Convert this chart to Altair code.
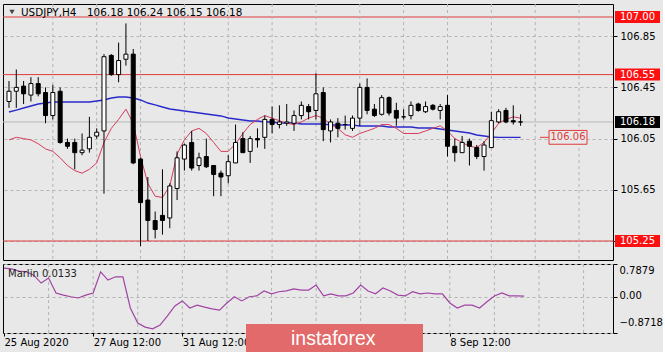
import altair as alt
import pandas as pd

# ---------------- data ----------------
opens = [106.34,106.42,106.46,106.39,106.48,106.41,106.23,106.42,106.02,106.02,105.94,105.97,106.07,106.11,106.70,106.55,106.67,106.71,105.89,105.57,105.41,105.45,105.43,105.66,105.89,106.02,105.84,105.91,105.84,105.78,105.76,105.86,106.05,105.95,106.05,106.06,106.20,106.16,106.17,106.17,106.23,106.30,106.27,106.41,106.11,106.17,106.16,106.13,106.21,106.45,106.28,106.24,106.37,106.27,106.22,106.23,106.32,106.26,106.31,106.27,106.31,105.99,105.94,106.03,105.98,105.91,105.98,106.18,106.27,106.19,106.18]
highs = [106.50,106.59,106.50,106.53,106.53,106.45,106.47,106.45,106.05,106.05,106.09,106.22,106.13,106.71,106.71,106.80,106.95,106.75,105.90,105.75,105.48,105.81,105.70,105.95,106.01,106.11,105.94,106.05,105.84,105.80,105.92,106.16,106.10,106.07,106.13,106.23,106.30,106.31,106.32,106.27,106.34,106.32,106.56,106.45,106.20,106.21,106.23,106.23,106.48,106.52,106.32,106.39,106.38,106.33,106.28,106.34,106.33,106.34,106.32,106.32,106.39,106.05,106.07,106.05,106.00,106.03,106.26,106.28,106.29,106.31,106.24]
lows = [106.29,106.29,106.32,106.34,106.38,106.17,106.20,106.01,105.97,105.81,105.92,105.94,106.05,105.62,106.54,106.49,106.62,105.85,105.21,105.25,105.27,105.30,105.35,105.57,105.80,105.80,105.80,105.82,105.60,105.60,105.70,105.86,105.94,105.86,105.98,105.97,106.09,106.13,106.15,106.11,106.20,106.20,106.20,106.03,106.02,106.06,106.12,106.11,106.15,106.24,106.22,106.23,106.23,106.15,106.20,106.20,106.26,106.25,106.27,106.20,105.91,105.87,105.94,105.84,105.89,105.80,105.98,106.17,106.17,106.16,106.15]
closes = [106.42,106.45,106.40,106.48,106.40,106.23,106.41,106.02,105.99,105.94,105.96,106.06,106.10,106.69,106.55,106.66,106.71,105.86,105.55,105.41,105.34,105.41,105.68,105.90,106.00,105.82,105.90,105.83,105.77,105.75,105.87,106.02,105.94,106.05,106.04,106.20,106.16,106.18,106.18,106.23,106.31,106.26,106.40,106.12,106.18,106.13,106.16,106.21,106.45,106.27,106.23,106.37,106.25,106.21,106.22,106.31,106.27,106.30,106.28,106.30,105.99,105.94,106.02,105.99,105.91,106.00,106.19,106.26,106.18,106.18,106.18]
ma_fast = [106.04,106.06,106.05,106.04,106.01,105.97,105.95,105.90,105.84,105.80,105.78,105.81,105.86,106.02,106.13,106.20,106.28,106.17,105.91,105.70,105.60,105.59,105.68,105.93,106.04,106.11,106.13,106.09,106.02,105.95,105.95,106.01,106.09,106.16,106.20,106.23,106.21,106.19,106.17,106.16,106.18,106.21,106.23,106.21,106.16,106.13,106.08,106.06,106.09,106.11,106.13,106.16,106.16,106.13,106.09,106.09,106.09,106.11,106.13,106.15,106.11,106.05,106.02,105.99,105.98,106.02,106.09,106.17,106.20,106.22,106.21]
ma_slow = [106.258,106.273,106.289,106.305,106.320,106.328,106.336,106.336,106.336,106.336,106.336,106.336,106.344,106.352,106.367,106.375,106.375,106.367,106.352,106.328,106.313,106.297,106.281,106.273,106.266,106.258,106.250,106.242,106.234,106.227,106.211,106.203,106.195,106.188,106.188,106.180,106.180,106.172,106.172,106.172,106.164,106.164,106.164,106.164,106.156,106.156,106.156,106.156,106.148,106.148,106.148,106.148,106.141,106.141,106.141,106.141,106.133,106.133,106.133,106.125,106.117,106.109,106.102,106.094,106.078,106.070,106.063,106.060,106.060,106.060,106.060]
marlin = [0.69,0.67,0.62,0.60,0.52,0.33,0.45,0.09,0.04,0.00,-0.03,0.04,0.09,0.60,0.40,0.48,0.48,-0.27,-0.63,-0.73,-0.77,-0.68,-0.46,-0.22,-0.10,-0.27,-0.20,-0.25,-0.29,-0.32,-0.15,0.00,-0.10,0.00,0.02,0.14,0.07,0.12,0.14,0.19,0.16,0.16,0.28,0.02,0.07,0.02,0.02,0.09,0.28,0.14,0.07,0.21,0.14,0.04,0.02,0.12,0.07,0.09,0.07,0.07,-0.15,-0.27,-0.20,-0.20,-0.27,-0.12,0.02,0.09,0.02,0.02,0.0133]

level_prices = [107.00, 106.55, 105.25]
bid_price = [106.18]
price_ticks = [105.25, 105.65, 106.05, 106.45, 106.85]
box_prices = [107.00, 106.55, 106.18, 105.25]
box_labels = ["107.00", "106.55", "106.18", "105.25"]
box_fills = ["#ff1010", "#ff1010", "#000000", "#ff1010"]
ma_label_price = [106.06]
ma_label_text = ["106.06"]
grid_idx = [6, 12, 18, 24, 30, 36, 42, 48, 54, 60, 66, 72, 78]
date_idx = [0, 12, 24, 60]
date_labels = ["25 Aug 2020", "27 Aug 12:00", "31 Aug 12:00", "8 Sep 12:00"]
osc_ticks = [-0.8718, 0.0, 0.7879]
symbol_text = "USDJPY,H4"
ohlc_text = "106.18 106.24 106.15 106.18"
osc_text = "Marlin 0.0133"
brand_text = "instaforex"

# ---------------- styling ----------------
BG = "#e8e8e8"
GRID = "#b4b4b4"
RED = "#e03a3a"
FONT = "DejaVu Sans"
W, H1, H2 = 610, 256, 69

df = pd.DataFrame({
    "i": list(range(len(opens))), "open": opens, "high": highs, "low": lows,
    "close": closes, "fast": ma_fast, "slow": ma_slow, "marlin": marlin,
})

xsc = alt.Scale(domain=[-0.135, 81.96], nice=False, zero=False)
ysc = alt.Scale(domain=[105.1016, 107.1016], nice=False, zero=False)
osc_sc = alt.Scale(domain=[-0.8718, 0.7879], nice=False, zero=False)

y_axis = alt.Axis(orient="right", values=price_ticks, format=".2f", grid=True,
                  gridDash=[3, 3], gridColor=GRID, domain=False, tickSize=4,
                  tickColor="#000", labelPadding=3, labelFont=FONT,
                  labelFontSize=10, labelColor="#000", title=None)


def Y(field):
    return alt.Y(field, scale=ysc, axis=y_axis)


XM = alt.X("i:Q", scale=xsc, axis=None)
base = alt.Chart(df)

vgrid = alt.Chart(pd.DataFrame({"g": grid_idx})).mark_rule(
    color=GRID, strokeDash=[3, 3], strokeWidth=1
).encode(x=alt.X("g:Q", scale=xsc, axis=None))

levels = alt.Chart(pd.DataFrame({"lv": level_prices})).mark_rule(
    color=RED, strokeWidth=1
).encode(y=Y("lv:Q"))

bid = alt.Chart(pd.DataFrame({"b": bid_price})).mark_rule(
    color="#b8b8b8", strokeWidth=1
).encode(y=Y("b:Q"))

wicks = base.mark_rule(color="#000", strokeWidth=1, clip=True).encode(
    x=XM, y=Y("low:Q"), y2="high:Q")

bodies = base.mark_bar(size=4, stroke="#000", strokeWidth=1, clip=True).encode(
    x=XM, y=Y("open:Q"), y2="close:Q",
    color=alt.condition("datum.close > datum.open", alt.value("#ffffff"), alt.value("#000000")))

slow_line = base.mark_line(color="#2a2acc", strokeWidth=1.4, clip=True).encode(x=XM, y=Y("slow:Q"))
fast_line = base.mark_line(color="#d63c5c", strokeWidth=1, clip=True).encode(x=XM, y=Y("fast:Q"))

box_df = pd.DataFrame({"p": box_prices, "label": box_labels, "fill": box_fills})
boxes = alt.Chart(box_df).transform_calculate(
    top="datum.p + 0.047", bot="datum.p - 0.047"
).mark_rect().encode(
    x=alt.value(612), x2=alt.value(657),
    y=Y("top:Q"), y2="bot:Q",
    color=alt.Color("fill:N", scale=None))
box_text = alt.Chart(box_df).mark_text(
    align="left", baseline="middle", font=FONT, fontSize=10, color="#ffffff"
).encode(x=alt.value(617), y=Y("p:Q"), text="label:N")

ma_df = pd.DataFrame({"p": ma_label_price, "label": ma_label_text})
ma_box = alt.Chart(ma_df).transform_calculate(
    top="datum.p + 0.054", bot="datum.p - 0.054"
).mark_rect(fill=BG, stroke=RED, strokeWidth=1).encode(
    x=alt.value(546), x2=alt.value(584), y=Y("top:Q"), y2="bot:Q")
ma_tick = alt.Chart(ma_df).mark_rule(color=RED, strokeWidth=1).encode(
    x=alt.value(537), x2=alt.value(546), y=Y("p:Q"))
ma_text = alt.Chart(ma_df).mark_text(
    align="center", baseline="middle", font=FONT, fontSize=10, color=RED
).encode(x=alt.value(565), y=Y("p:Q"), text="label:N")

title_df = pd.DataFrame({"s": [symbol_text], "o": [ohlc_text]})
tri = alt.Chart(title_df).mark_point(shape="triangle-down", filled=True, color="#000", size=28).encode(
    x=alt.value(9), y=alt.value(8))
sym = alt.Chart(title_df).mark_text(align="left", baseline="middle", font=FONT, fontSize=10.4, color="#000").encode(
    x=alt.value(18), y=alt.value(9), text="s:N")
ohlc = alt.Chart(title_df).mark_text(align="left", baseline="middle", font=FONT, fontSize=10.4, color="#000").encode(
    x=alt.value(84), y=alt.value(9), text="o:N")

main = alt.layer(levels, vgrid, bid, slow_line, fast_line, wicks, bodies,
                 boxes, box_text, ma_tick, ma_box, ma_text, tri, sym, ohlc
                 ).properties(width=W, height=H1)

# ---------------- oscillator panel ----------------
label_expr = " : ".join(
    f"datum.value == {v} ? '{t}'" for v, t in zip(date_idx, date_labels)) + " : ''"

x_low_axis = alt.Axis(
    values=date_idx, labelExpr=label_expr, labelAlign="left", labelFont=FONT,
    labelFontSize=10, labelColor="#000", tickSize=3, tickColor="#000",
    labelPadding=1, grid=False, domain=False, title=None, labelFlush=False,
    labelOverlap=False)
y_low = alt.Y("marlin:Q", scale=osc_sc, axis=alt.Axis(
    orient="right", values=osc_ticks,
    labelExpr="datum.value == 0 ? '0.00' : format(datum.value, '.4f')",
    grid=True, gridDash=[3, 3], gridColor=GRID, domain=False, tickSize=4,
    tickColor="#000", labelPadding=2, labelFont=FONT, labelFontSize=10,
    labelColor="#000", labelFlush=False, labelBaseline="middle",
    labelOffset={"condition": [{"test": "datum.value > 0.5", "value": 6},
                               {"test": "datum.value < -0.5", "value": -11}],
                 "value": -1},
    title=None))

osc_vgrid = alt.Chart(pd.DataFrame({"g": grid_idx})).mark_rule(
    color=GRID, strokeDash=[3, 3], strokeWidth=1
).encode(x=alt.X("g:Q", scale=xsc, axis=x_low_axis))

osc_line = base.mark_line(color="#a044a4", strokeWidth=1.2, clip=True).encode(
    x=alt.X("i:Q", scale=xsc, axis=x_low_axis), y=y_low)

osc_lbl = alt.Chart(pd.DataFrame({"t": [osc_text]})).mark_text(
    align="left", baseline="middle", font=FONT, fontSize=10, color="#222"
).encode(x=alt.value(5), y=alt.value(10), text="t:N")

brand_df = pd.DataFrame({"t": [brand_text]})
brand_box = alt.Chart(brand_df).mark_rect(color="#e36a6a").encode(
    x=alt.value(243), x2=alt.value(420), y=alt.value(60), y2=alt.value(90))
brand_txt = alt.Chart(brand_df).mark_text(
    align="left", baseline="alphabetic", font="Liberation Sans", fontSize=19.5, color="#ffffff"
).encode(x=alt.value(288), y=alt.value(81), text="t:N")

low = alt.layer(osc_vgrid, osc_line, osc_lbl, brand_box, brand_txt).properties(width=W, height=H2)

chart = alt.vconcat(main, low, spacing=2).properties(
    padding={"left": 2, "top": 3, "right": 0, "bottom": 0},
    background=BG,
).configure_view(stroke="#000", strokeWidth=1, fill=BG)

chart.save("out.html", embed_options={"renderer": "svg", "actions": False})
